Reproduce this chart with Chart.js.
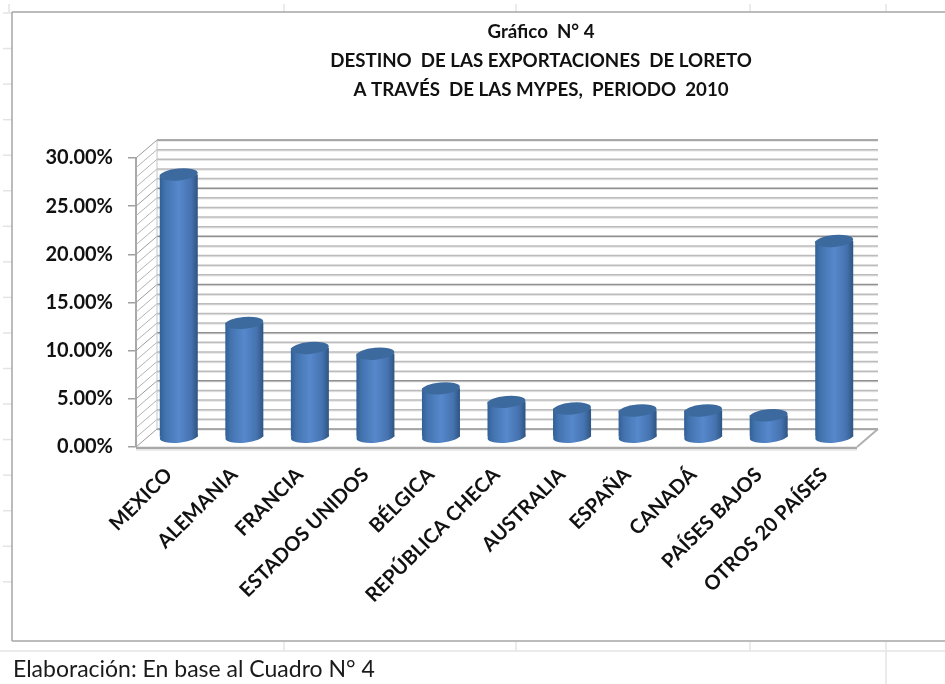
<!DOCTYPE html>
<html>
<head>
<meta charset="utf-8">
<style>
html,body{margin:0;padding:0;background:#fff;}
#wrap{position:relative;width:945px;height:684px;}
canvas{display:block;filter:blur(0.4px);}
</style>
<script src="https://cdn.jsdelivr.net/npm/chart.js@4"></script>
</head>
<body>
<div id="wrap"><canvas id="c" width="945" height="684"></canvas></div>
<script>
const categories = ["MEXICO","ALEMANIA","FRANCIA","ESTADOS UNIDOS","BÉLGICA","REPÚBLICA CHECA","AUSTRALIA","ESPAÑA","CANADÁ","PAÍSES BAJOS","OTROS 20 PAÍSES"];
const shares = [27.3,11.9,9.3,8.7,5.1,3.7,3.0,2.8,2.8,2.3,20.4];
const titleLines = ["Gráfico  N° 4","DESTINO  DE LAS EXPORTACIONES  DE LORETO","A TRAVÉS  DE LAS MYPES,  PERIODO  2010"];
const footerText = "Elaboración: En base al Cuadro N° 4";
const FONT = "Lato, Carlito, sans-serif";
const DEPTH_X = 21, DEPTH_Y = 18;
const BAR_DX = 10, BAR_DY = 9.5;

function line(ctx,x1,y1,x2,y2,color,w){
  ctx.strokeStyle=color;ctx.lineWidth=w;ctx.beginPath();ctx.moveTo(x1,y1);ctx.lineTo(x2,y2);ctx.stroke();
}
function barGradient(ctx,left,right){
  const g=ctx.createLinearGradient(left,0,right,0);
  g.addColorStop(0,"#315f97");
  g.addColorStop(0.14,"#4373ae");
  g.addColorStop(0.5,"#5688cc");
  g.addColorStop(0.82,"#4673b0");
  g.addColorStop(1,"#2e5482");
  return g;
}

const sheetPlugin = {
  id:"sheet",
  afterLayout(chart){
    chart.titleBlock.left = 137;
    chart.titleBlock.right = 945;
  },
  beforeDraw(chart){
    const ctx=chart.ctx;
    ctx.save();
    ctx.fillStyle="#fff";ctx.fillRect(0,0,945,684);
    const gridC="#e4e4e4";
    for(let i=0;i<17;i++){const y=13+i*35.55;line(ctx,3,y,12,y,gridC,1.5);}
    line(ctx,9,4,9,12,gridC,1.5);
    [284,516,750,886].forEach(x=>{line(ctx,x,4,x,12,gridC,1.5);line(ctx,x,642,x,651,gridC,1.5);});
    line(ctx,886,651,886,684,gridC,1.5);
    line(ctx,0,651,945,651,gridC,1.5);
    line(ctx,12,12,945,12,"#a6a6a6",1.5);
    line(ctx,12,12,12,641,"#a6a6a6",1.5);
    line(ctx,12,641,945,641,"#a6a6a6",1.5);
    ctx.fillStyle="#1a1a1a";
    ctx.font="23px "+FONT;
    ctx.textAlign="left";ctx.textBaseline="alphabetic";
    ctx.fillText(footerText,13,677);
    ctx.restore();
  },
  beforeDatasetsDraw(chart){
    const ctx=chart.ctx,y=chart.scales.y,x=chart.scales.x;
    const L=x.left,R=x.right;
    ctx.save();
    for(let v=0;v<=30;v++){
      const py=y.getPixelForValue(v),major=v%5===0;
      const c=major?"#8f8f8f":"#bcbcbc";
      line(ctx,L+DEPTH_X,py-DEPTH_Y+1,R+DEPTH_X,py-DEPTH_Y+1,"#e6e6e6",1.5);
      line(ctx,L+DEPTH_X,py-DEPTH_Y,R+DEPTH_X,py-DEPTH_Y,c,1.5);
      line(ctx,L,py,L+DEPTH_X,py-DEPTH_Y,major?"#9c9c9c":"#b4b4b4",1);
    }
    const y0=y.getPixelForValue(0),yT=y.getPixelForValue(30);
    line(ctx,L+DEPTH_X,yT-DEPTH_Y,L+DEPTH_X,y0-DEPTH_Y,"#c4c4c4",1);
    line(ctx,R,y0,R+DEPTH_X,y0-DEPTH_Y,"#b0b0b0",2);
    line(ctx,L,y0+1,R,y0+1,"#a8a8a8",2.5);
    line(ctx,L,y0+3,R,y0+3,"#e6e6e6",1.5);
    ctx.restore();
    ctx.save();
    ctx.translate(BAR_DX,-BAR_DY);
  },
  afterDatasetsDraw(chart){
    const ctx=chart.ctx,meta=chart.getDatasetMeta(0);
    const tilt=-0.09;
    meta.data.forEach(b=>{
      const rx=b.width/2,ry=6;
      ctx.fillStyle=barGradient(ctx,b.x-rx,b.x+rx);
      ctx.beginPath();ctx.ellipse(b.x,b.base,rx,ry,tilt,0,Math.PI*2);ctx.fill();
      ctx.fillStyle="#3d6a9e";
      ctx.beginPath();ctx.ellipse(b.x,b.y,rx,ry,tilt,0,Math.PI*2);ctx.fill();
    });
    ctx.restore();
  }
};

new Chart(document.getElementById("c"),{
  type:"bar",
  plugins:[sheetPlugin],
  data:{labels:categories,datasets:[{
    data:shares,
    clip:false,
    barPercentage:1,
    categoryPercentage:0.58,
    borderWidth:0,
    backgroundColor(ctx){
      const sc=ctx.chart.scales.x;
      if(!sc||ctx.dataIndex===undefined)return "#4a7cbd";
      const cx=sc.getPixelForValue(ctx.dataIndex),hw=sc.width/categories.length*0.58/2;
      if(!isFinite(cx))return "#4a7cbd";
      return barGradient(ctx.chart.ctx,cx-hw,cx+hw);
    }
  }]},
  options:{
    responsive:false,
    animation:false,
    layout:{padding:{left:0,right:88,top:0,bottom:0}},
    plugins:{
      legend:{display:false},
      tooltip:{enabled:false},
      title:{
        display:true,text:titleLines,color:"#111",
        font:{family:FONT,size:18.7,weight:"bold",lineHeight:"29px"},
        padding:{top:17,bottom:54}
      }
    },
    scales:{
      x:{
        afterFit(s){s.height=237;},
        grid:{display:false},
        border:{display:false},
        ticks:{color:"#111",font:{family:FONT,size:20,weight:"bold"},minRotation:45,maxRotation:45,padding:8,autoSkip:false}
      },
      y:{
        min:0,max:30,
        afterFit(s){s.width=136;},
        grid:{drawOnChartArea:false,drawTicks:true,tickLength:8,color:"#a0a0a0",lineWidth:1.5},
        border:{display:true,color:"#a8a8a8",width:2},
        ticks:{stepSize:5,color:"#111",padding:15,font:{family:FONT,size:20,weight:"bold"},callback:v=>v.toFixed(2)+"%"}
      }
    }
  }
});
</script>
</body>
</html>
